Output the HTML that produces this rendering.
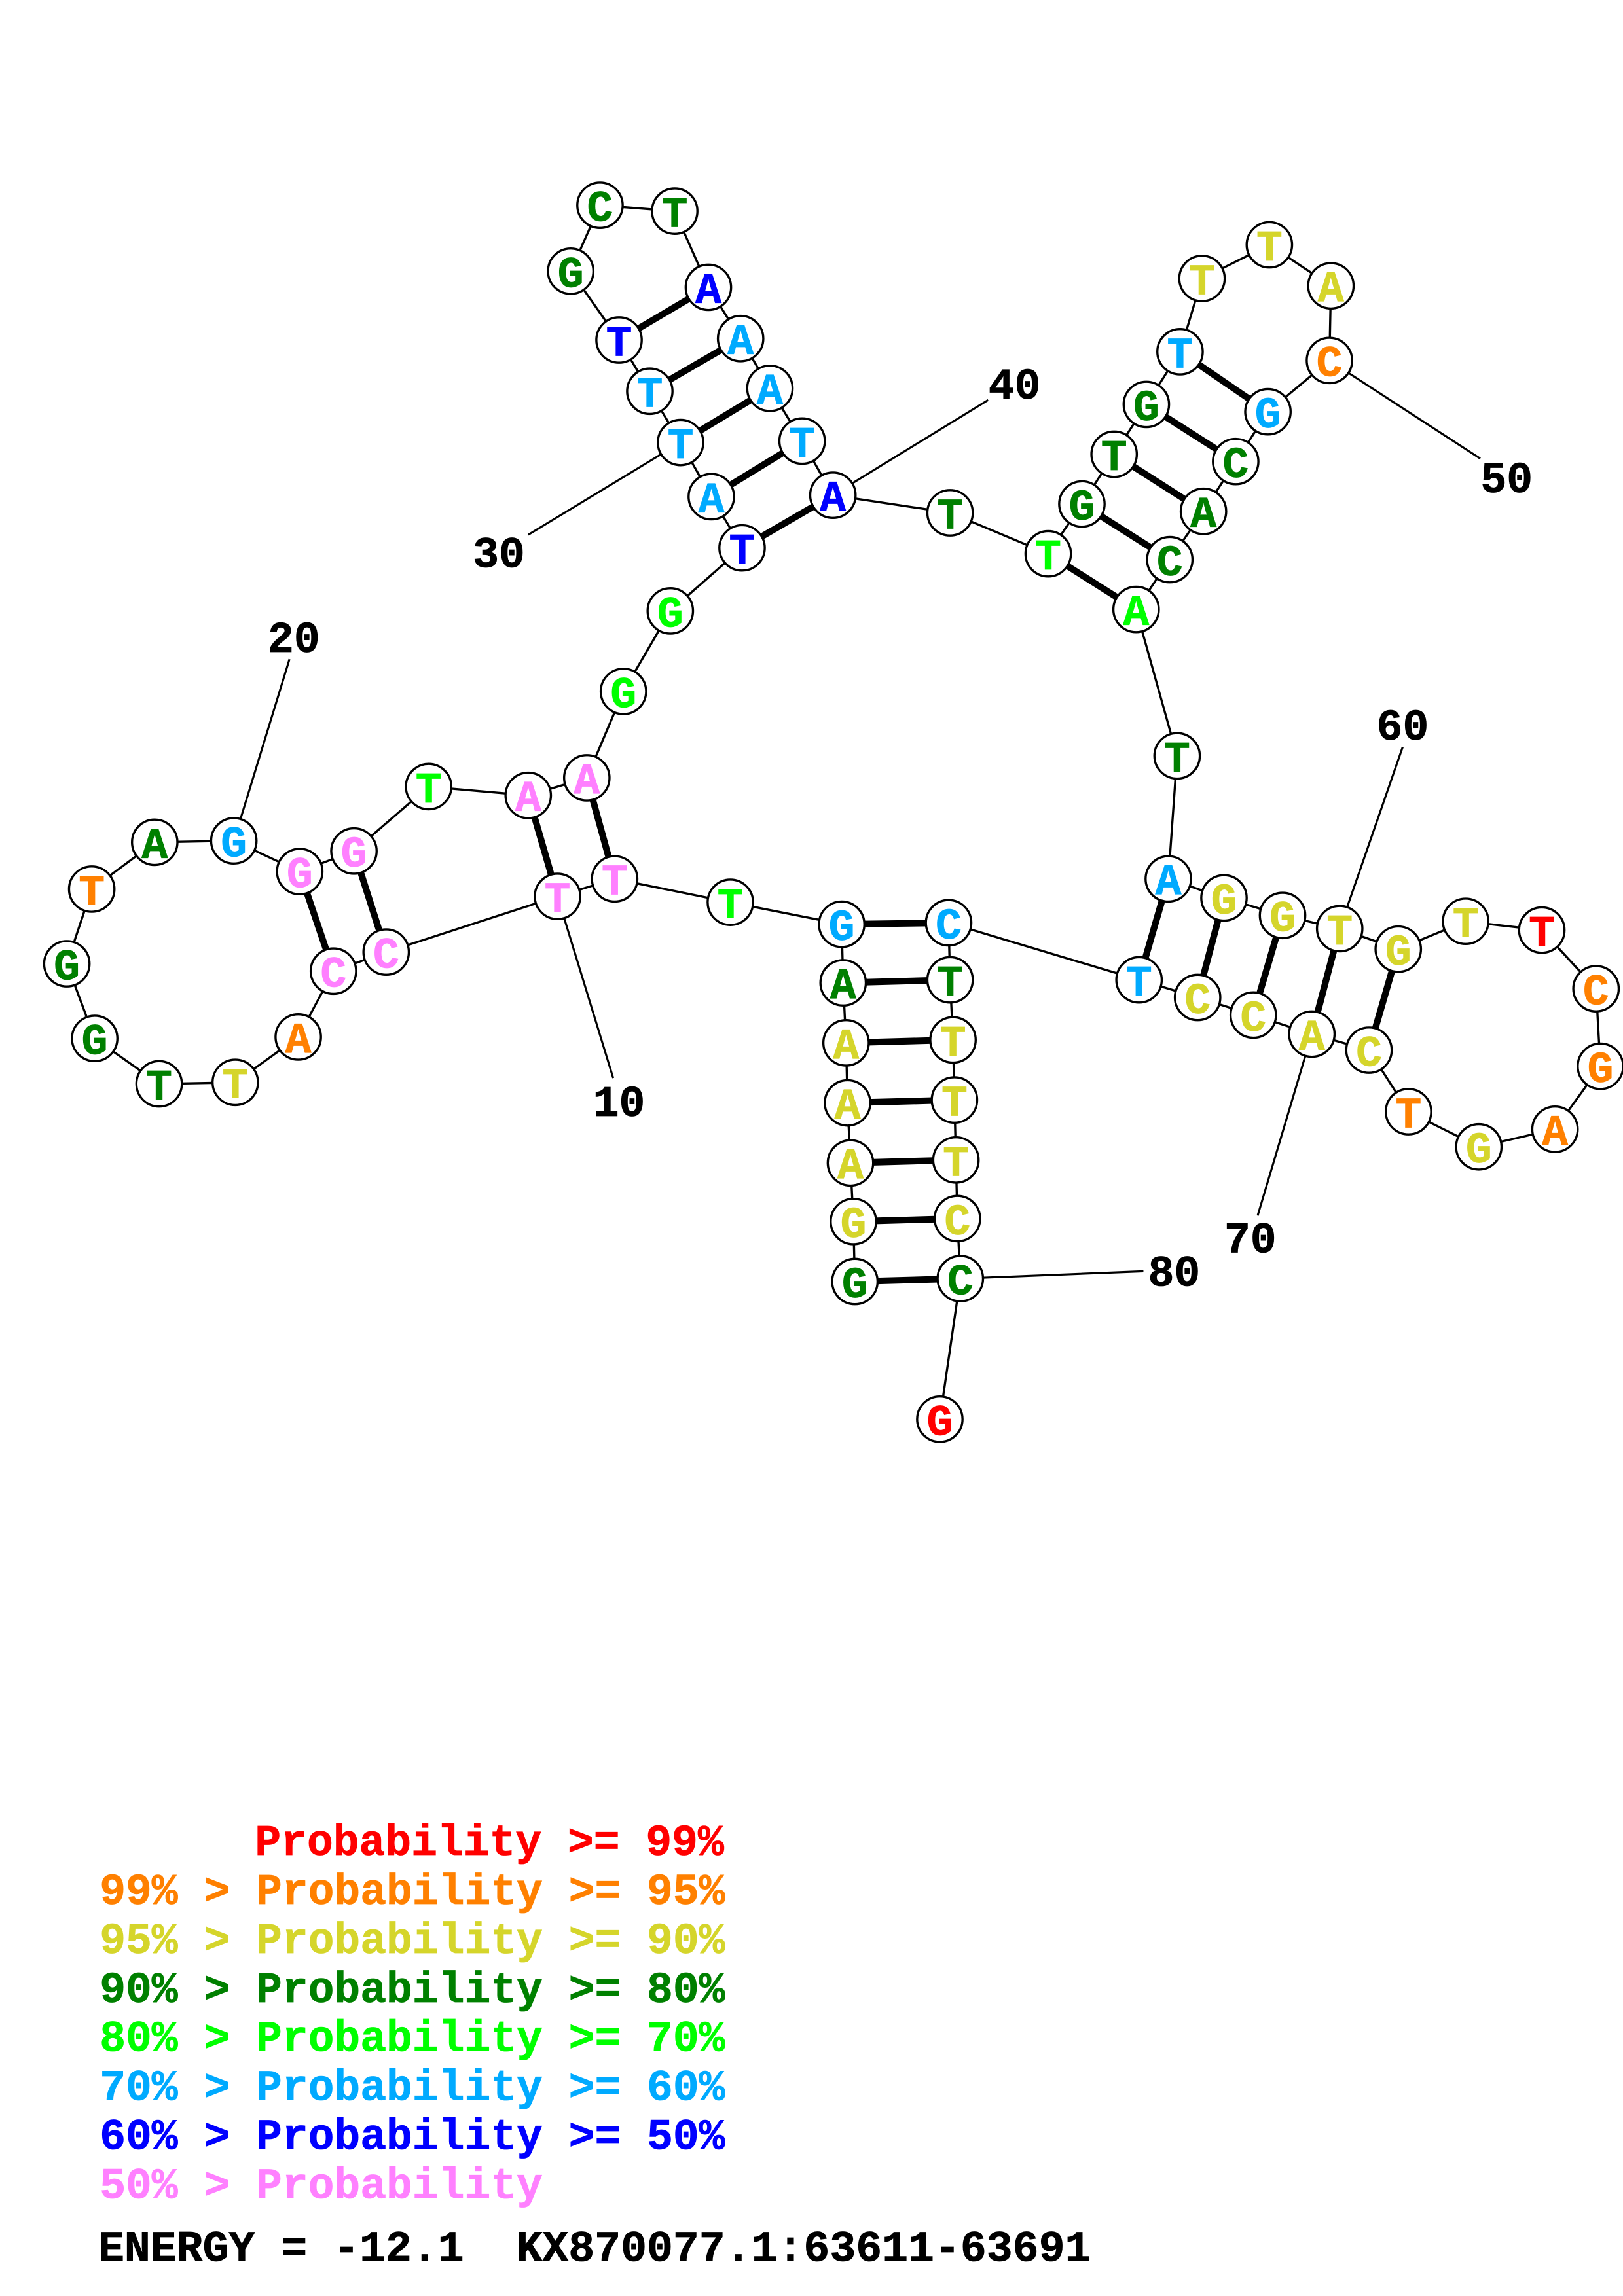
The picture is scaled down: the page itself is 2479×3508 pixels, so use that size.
<!DOCTYPE html>
<html><head><meta charset="utf-8"><style>
html,body{margin:0;padding:0;background:#fff}
svg{display:block}
text{font-family:"Liberation Mono",monospace;font-weight:bold;font-size:29.65px;stroke-width:.35px}
.n text{text-anchor:middle}
.r{fill:#f00;stroke:#f00}.o{fill:#ff8000;stroke:#ff8000}.y{fill:#d5d52b;stroke:#d5d52b}.g{fill:#008000;stroke:#008000}.l{fill:#0f0;stroke:#0f0}.s{fill:#0af;stroke:#0af}.b{fill:#00f;stroke:#00f}.p{fill:#ff80ff;stroke:#ff80ff}.k{fill:#000;stroke:#000}
</style></head><body>
<svg xmlns="http://www.w3.org/2000/svg" width="2479" height="3508" viewBox="0 0 1108 1568">
<rect width="1108" height="1568" fill="#fff"/>
<g transform="translate(0.6,0.2)">
<polyline fill="none" stroke="#000" stroke-width="1.5" points="583,875 582,834 580,794 578,753 577,712 575,671 574,631 498,616 419,600 380,612 263,650 227,663 203,708 160,739 108,740 64,709 45,658 62,607 105,575 159,574 204,595 241,581 292,537 360,543 400,531 425,472 457,417 506,374 485,339 464,302 443,267 422,232 389,185 409,140 460,144 483,196 505,231 525,265 547,301 568,338 648,350 715,378 738,344 760,310 782,276 805,240 820,190 866,167 908,195 907,246 865,281 843,315 821,349 798,382 775,416 803,516 797,600 835,613 875,625 914,634 954,648 1000,629 1052,635 1089,675 1092,728 1061,771 1009,783 961,759 934,717 895,706 855,693 817,681 777,669 647,630 648,669 650,710 651,751 652,792 653,832 655,873 641,969"/>
<g stroke="#000" stroke-width="1.4" fill="none">
<path d="M380,612L418,736M159,574L197,450M464,302L360,365M568,338L674,273M907,246L1010,313M914,634L957,510M895,706L858,830M655,873L780,868"/>
</g>
<g stroke="#000" stroke-width="4.5" fill="none">
<path d="M583,875L655,873M582,834L653,832M580,794L652,792M578,753L651,751M577,712L650,710M575,671L648,669M574,631L647,630"/>
<path d="M419,600L400,531M380,612L360,543M263,650L241,581M227,663L204,595"/>
<path d="M506,374L568,338M485,339L547,301M464,302L525,265M443,267L505,231M422,232L483,196"/>
<path d="M715,378L775,416M738,344L798,382M760,310L821,349M782,276L843,315M805,240L865,281"/>
<path d="M797,600L777,669M835,613L817,681M875,625L855,693M914,634L895,706M954,648L934,717"/>
</g>
<g fill="#fff" stroke="#000" stroke-width="1.5">
<circle cx="583" cy="875" r="15.5"/><circle cx="582" cy="834" r="15.5"/><circle cx="580" cy="794" r="15.5"/><circle cx="578" cy="753" r="15.5"/><circle cx="577" cy="712" r="15.5"/><circle cx="575" cy="671" r="15.5"/><circle cx="574" cy="631" r="15.5"/><circle cx="498" cy="616" r="15.5"/><circle cx="419" cy="600" r="15.5"/><circle cx="380" cy="612" r="15.5"/>
<circle cx="263" cy="650" r="15.5"/><circle cx="227" cy="663" r="15.5"/><circle cx="203" cy="708" r="15.5"/><circle cx="160" cy="739" r="15.5"/><circle cx="108" cy="740" r="15.5"/><circle cx="64" cy="709" r="15.5"/><circle cx="45" cy="658" r="15.5"/><circle cx="62" cy="607" r="15.5"/><circle cx="105" cy="575" r="15.5"/><circle cx="159" cy="574" r="15.5"/>
<circle cx="204" cy="595" r="15.5"/><circle cx="241" cy="581" r="15.5"/><circle cx="292" cy="537" r="15.5"/><circle cx="360" cy="543" r="15.5"/><circle cx="400" cy="531" r="15.5"/><circle cx="425" cy="472" r="15.5"/><circle cx="457" cy="417" r="15.5"/><circle cx="506" cy="374" r="15.5"/><circle cx="485" cy="339" r="15.5"/><circle cx="464" cy="302" r="15.5"/>
<circle cx="443" cy="267" r="15.5"/><circle cx="422" cy="232" r="15.5"/><circle cx="389" cy="185" r="15.5"/><circle cx="409" cy="140" r="15.5"/><circle cx="460" cy="144" r="15.5"/><circle cx="483" cy="196" r="15.5"/><circle cx="505" cy="231" r="15.5"/><circle cx="525" cy="265" r="15.5"/><circle cx="547" cy="301" r="15.5"/><circle cx="568" cy="338" r="15.5"/>
<circle cx="648" cy="350" r="15.5"/><circle cx="715" cy="378" r="15.5"/><circle cx="738" cy="344" r="15.5"/><circle cx="760" cy="310" r="15.5"/><circle cx="782" cy="276" r="15.5"/><circle cx="805" cy="240" r="15.5"/><circle cx="820" cy="190" r="15.5"/><circle cx="866" cy="167" r="15.5"/><circle cx="908" cy="195" r="15.5"/><circle cx="907" cy="246" r="15.5"/>
<circle cx="865" cy="281" r="15.5"/><circle cx="843" cy="315" r="15.5"/><circle cx="821" cy="349" r="15.5"/><circle cx="798" cy="382" r="15.5"/><circle cx="775" cy="416" r="15.5"/><circle cx="803" cy="516" r="15.5"/><circle cx="797" cy="600" r="15.5"/><circle cx="835" cy="613" r="15.5"/><circle cx="875" cy="625" r="15.5"/><circle cx="914" cy="634" r="15.5"/>
<circle cx="954" cy="648" r="15.5"/><circle cx="1000" cy="629" r="15.5"/><circle cx="1052" cy="635" r="15.5"/><circle cx="1089" cy="675" r="15.5"/><circle cx="1092" cy="728" r="15.5"/><circle cx="1061" cy="771" r="15.5"/><circle cx="1009" cy="783" r="15.5"/><circle cx="961" cy="759" r="15.5"/><circle cx="934" cy="717" r="15.5"/><circle cx="895" cy="706" r="15.5"/>
<circle cx="855" cy="693" r="15.5"/><circle cx="817" cy="681" r="15.5"/><circle cx="777" cy="669" r="15.5"/><circle cx="647" cy="630" r="15.5"/><circle cx="648" cy="669" r="15.5"/><circle cx="650" cy="710" r="15.5"/><circle cx="651" cy="751" r="15.5"/><circle cx="652" cy="792" r="15.5"/><circle cx="653" cy="832" r="15.5"/><circle cx="655" cy="873" r="15.5"/><circle cx="641" cy="969" r="15.5"/>
</g>
<g class="n" transform="translate(0,10.7)">
<text class="g" x="583" y="875">G</text><text class="y" x="582" y="834">G</text><text class="y" x="580" y="794">A</text><text class="y" x="578" y="753">A</text><text class="y" x="577" y="712">A</text><text class="g" x="575" y="671">A</text><text class="s" x="574" y="631">G</text><text class="l" x="498" y="616">T</text><text class="p" x="419" y="600">T</text><text class="p" x="380" y="612">T</text>
<text class="p" x="263" y="650">C</text><text class="p" x="227" y="663">C</text><text class="o" x="203" y="708">A</text><text class="y" x="160" y="739">T</text><text class="g" x="108" y="740">T</text><text class="g" x="64" y="709">G</text><text class="g" x="45" y="658">G</text><text class="o" x="62" y="607">T</text><text class="g" x="105" y="575">A</text><text class="s" x="159" y="574">G</text>
<text class="p" x="204" y="595">G</text><text class="p" x="241" y="581">G</text><text class="l" x="292" y="537">T</text><text class="p" x="360" y="543">A</text><text class="p" x="400" y="531">A</text><text class="l" x="425" y="472">G</text><text class="l" x="457" y="417">G</text><text class="b" x="506" y="374">T</text><text class="s" x="485" y="339">A</text><text class="s" x="464" y="302">T</text>
<text class="s" x="443" y="267">T</text><text class="b" x="422" y="232">T</text><text class="g" x="389" y="185">G</text><text class="g" x="409" y="140">C</text><text class="g" x="460" y="144">T</text><text class="b" x="483" y="196">A</text><text class="s" x="505" y="231">A</text><text class="s" x="525" y="265">A</text><text class="s" x="547" y="301">T</text><text class="b" x="568" y="338">A</text>
<text class="g" x="648" y="350">T</text><text class="l" x="715" y="378">T</text><text class="g" x="738" y="344">G</text><text class="g" x="760" y="310">T</text><text class="g" x="782" y="276">G</text><text class="s" x="805" y="240">T</text><text class="y" x="820" y="190">T</text><text class="y" x="866" y="167">T</text><text class="y" x="908" y="195">A</text><text class="o" x="907" y="246">C</text>
<text class="s" x="865" y="281">G</text><text class="g" x="843" y="315">C</text><text class="g" x="821" y="349">A</text><text class="g" x="798" y="382">C</text><text class="l" x="775" y="416">A</text><text class="g" x="803" y="516">T</text><text class="s" x="797" y="600">A</text><text class="y" x="835" y="613">G</text><text class="y" x="875" y="625">G</text><text class="y" x="914" y="634">T</text>
<text class="y" x="954" y="648">G</text><text class="y" x="1000" y="629">T</text><text class="r" x="1052" y="635">T</text><text class="o" x="1089" y="675">C</text><text class="o" x="1092" y="728">G</text><text class="o" x="1061" y="771">A</text><text class="y" x="1009" y="783">G</text><text class="o" x="961" y="759">T</text><text class="y" x="934" y="717">C</text><text class="y" x="895" y="706">A</text>
<text class="y" x="855" y="693">C</text><text class="y" x="817" y="681">C</text><text class="s" x="777" y="669">T</text><text class="s" x="647" y="630">C</text><text class="g" x="648" y="669">T</text><text class="y" x="650" y="710">T</text><text class="y" x="651" y="751">T</text><text class="y" x="652" y="792">T</text><text class="y" x="653" y="832">C</text><text class="g" x="655" y="873">C</text><text class="r" x="641" y="969">G</text>
</g>
<g class="n">
<text class="k" x="422" y="762">10</text><text class="k" x="200" y="445">20</text><text class="k" x="340" y="387">30</text><text class="k" x="692" y="272">40</text><text class="k" x="1028" y="336">50</text><text class="k" x="957" y="505">60</text><text class="k" x="853" y="855">70</text><text class="k" x="801" y="878">80</text>
</g>
</g>
<g xml:space="preserve">
<text class="r" x="174" y="1266.7">Probability &gt;= 99%</text>
<text class="o" x="68" y="1300.2">99% &gt; Probability &gt;= 95%</text>
<text class="y" x="68" y="1333.7">95% &gt; Probability &gt;= 90%</text>
<text class="g" x="68" y="1367.2">90% &gt; Probability &gt;= 80%</text>
<text class="l" x="68" y="1400.7">80% &gt; Probability &gt;= 70%</text>
<text class="s" x="68" y="1434.2">70% &gt; Probability &gt;= 60%</text>
<text class="b" x="68" y="1467.7">60% &gt; Probability &gt;= 50%</text>
<text class="p" x="68" y="1501.2">50% &gt; Probability</text>
<text class="k" x="67" y="1544" style="white-space:pre;font-size:29.73px">ENERGY = -12.1  KX870077.1:63611-63691</text>
</g>
</svg>
</body></html>
